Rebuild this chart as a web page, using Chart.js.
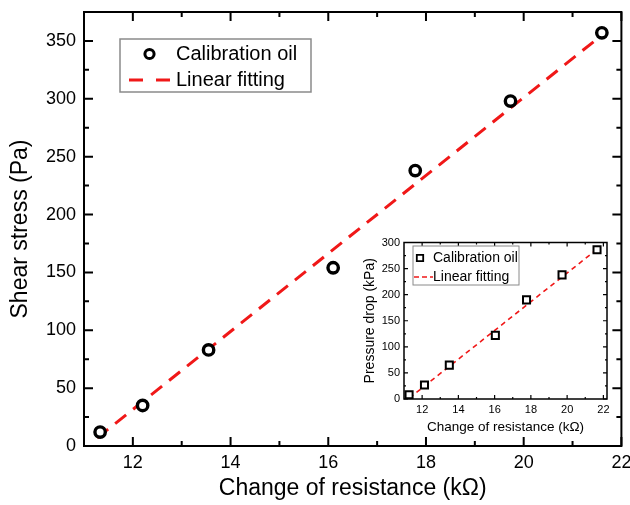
<!DOCTYPE html>
<html><head><meta charset="utf-8">
<script src="https://cdn.jsdelivr.net/npm/chart.js@4"></script>
<style>
html,body{margin:0;padding:0;background:#fff;}
#wrap{position:relative;width:630px;height:505px;overflow:hidden;}
#main{position:absolute;left:0;top:0;}
#inset{position:absolute;left:350px;top:230px;}
</style></head><body>
<div id="wrap"><canvas id="main" width="630" height="505"></canvas><canvas id="inset" width="265" height="210"></canvas></div>
<script>
// ---- main chart data ----
const mainX = [11.33, 12.2, 13.55, 16.1, 17.78, 19.73, 21.6];
const mainY = [12, 35, 83, 154, 238, 298, 357];
const mainFitX = [11.27, 21.6];
const mainFitY = [7, 355];
const mainXTicks = [12, 14, 16, 18, 20, 22];
const mainYTicks = [0, 50, 100, 150, 200, 250, 300, 350];
const mainXMinor = [13, 15, 17, 19, 21];
const mainYMinor = [25, 75, 125, 175, 225, 275, 325];
// ---- inset data ----
const insetX = [11.28, 12.13, 13.5, 16.04, 17.76, 19.72, 21.65];
const insetY = [8, 27, 65, 122, 190, 238, 286];
const insetFitX = [11.3, 21.65];
const insetFitY = [2, 287];
const insetXTicks = [12, 14, 16, 18, 20, 22];
const insetYTicks = [0, 50, 100, 150, 200, 250, 300];
const insetXMinor = [13, 15, 17, 19, 21];
const insetYMinor = [25, 75, 125, 175, 225, 275];

const FONT = "'Liberation Sans', Arial, sans-serif";
const RED = '#f01818';

const frameTicks = {
  id: 'frameTicks',
  beforeDatasetsDraw(chart, args, o) {
    const {ctx, chartArea: a, scales: {x, y}} = chart;
    ctx.save();
    ctx.strokeStyle = '#000';
    ctx.lineWidth = o.tw;
    ctx.beginPath();
    const vx = (vals, len) => vals.forEach(v => {
      const p = x.getPixelForValue(v);
      ctx.moveTo(p, a.bottom); ctx.lineTo(p, a.bottom - len);
      ctx.moveTo(p, a.top); ctx.lineTo(p, a.top + len);
    });
    const vy = (vals, len) => vals.forEach(v => {
      const p = y.getPixelForValue(v);
      ctx.moveTo(a.left, p); ctx.lineTo(a.left + len, p);
      ctx.moveTo(a.right, p); ctx.lineTo(a.right - len, p);
    });
    vx(o.xMajor, o.major); vx(o.xMinor, o.minor);
    vy(o.yMajor, o.major); vy(o.yMinor, o.minor);
    ctx.stroke();
    ctx.lineWidth = o.lw;
    ctx.strokeRect(a.left, a.top, a.right - a.left, a.bottom - a.top);
    ctx.restore();
  }
};

const boxLegend = {
  id: 'boxLegend',
  afterDraw(chart, args, o) {
    const ctx = chart.ctx;
    ctx.save();
    ctx.fillStyle = '#fff';
    ctx.fillRect(o.box[0], o.box[1], o.box[2] - o.box[0], o.box[3] - o.box[1]);
    ctx.strokeStyle = '#8a8a8a';
    ctx.lineWidth = o.blw;
    ctx.strokeRect(o.box[0], o.box[1], o.box[2] - o.box[0], o.box[3] - o.box[1]);
    ctx.strokeStyle = '#000';
    ctx.lineWidth = o.mlw;
    ctx.beginPath();
    if (o.marker === 'circle') {
      ctx.arc(o.mx, o.r1, o.msize, 0, Math.PI * 2);
    } else {
      ctx.rect(o.mx - o.msize, o.r1 - o.msize, o.msize * 2, o.msize * 2);
    }
    ctx.stroke();
    ctx.strokeStyle = RED;
    ctx.lineWidth = o.dlw;
    ctx.beginPath();
    o.dashes.forEach(d => { ctx.moveTo(d[0], o.r2); ctx.lineTo(d[1], o.r2); });
    ctx.stroke();
    ctx.fillStyle = '#000';
    ctx.font = o.font;
    ctx.textBaseline = 'middle';
    ctx.textAlign = 'left';
    ctx.fillText(o.labels[0], o.tx, o.r1);
    ctx.fillText(o.labels[1], o.tx, o.r2);
    ctx.restore();
  }
};

function pts(xs, ys) { return xs.map((v, i) => ({x: v, y: ys[i]})); }
function fitX(h) { return s => { s.height = h; s.paddingLeft = 0; s.paddingRight = 0; }; }
function fitY(w) { return s => { s.width = w; s.paddingTop = 0; s.paddingBottom = 0; }; }

new Chart(document.getElementById('main'), {
  type: 'scatter',
  data: {
    datasets: [
      {label: 'Calibration oil', data: pts(mainX, mainY), pointStyle: 'circle', pointRadius: 5.2,
       pointBorderWidth: 3.4, pointBorderColor: '#000', pointBackgroundColor: '#fff', pointHoverRadius: 5.2},
      {label: 'Linear fitting', data: pts(mainFitX, mainFitY), showLine: true, pointRadius: 0,
       borderColor: RED, borderWidth: 3, borderDash: [14, 9]}
    ]
  },
  options: {
    responsive: false, animation: false, devicePixelRatio: 1,
    layout: {padding: {top: 12, right: 8, left: 0, bottom: 0}},
    plugins: {
      legend: {display: false}, tooltip: {enabled: false},
      frameTicks: {xMajor: mainXTicks, xMinor: mainXMinor, yMajor: mainYTicks, yMinor: mainYMinor,
                   major: 9, minor: 5, tw: 2, lw: 2},
      boxLegend: {box: [120, 39, 311, 92], blw: 1.5, marker: 'circle', mx: 149.5, msize: 4.6, mlw: 3,
                  r1: 54, r2: 80, dashes: [[129, 143], [156, 170]], dlw: 3, tx: 176,
                  font: '20px ' + FONT, labels: ['Calibration oil', 'Linear fitting']}
    },
    scales: {
      x: {
        type: 'linear', min: 11, max: 22,
        afterBuildTicks: s => { s.ticks = mainXTicks.map(v => ({value: v})); },
        afterFit: fitX(59),
        grid: {display: false, drawTicks: false}, border: {display: false},
        ticks: {color: '#000', font: {family: FONT, size: 18}, padding: 6, maxRotation: 0, autoSkip: false},
        title: {display: true, text: 'Change of resistance (kΩ)', color: '#000',
                font: {family: FONT, size: 23}, padding: {top: 0, bottom: 3}}
      },
      y: {
        type: 'linear', min: 0, max: 375,
        afterBuildTicks: s => { s.ticks = mainYTicks.map(v => ({value: v})); },
        afterFit: fitY(84),
        grid: {display: false, drawTicks: false}, border: {display: false},
        ticks: {color: '#000', font: {family: FONT, size: 18}, padding: 8, autoSkip: false},
        title: {display: true, text: 'Shear stress (Pa)', color: '#000',
                font: {family: FONT, size: 23}, padding: {top: 7, bottom: 0}}
      }
    }
  },
  plugins: [frameTicks, boxLegend]
});

new Chart(document.getElementById('inset'), {
  type: 'scatter',
  data: {
    datasets: [
      {label: 'Calibration oil', data: pts(insetX, insetY), pointStyle: 'rect', pointRadius: 5,
       pointBorderWidth: 2, pointBorderColor: '#000', pointBackgroundColor: '#fff', pointHoverRadius: 5},
      {label: 'Linear fitting', data: pts(insetFitX, insetFitY), showLine: true, pointRadius: 0,
       borderColor: RED, borderWidth: 1.6, borderDash: [5, 4]}
    ]
  },
  options: {
    responsive: false, animation: false, devicePixelRatio: 1,
    layout: {padding: {top: 12.5, right: 8, left: 0, bottom: 0}},
    plugins: {
      legend: {display: false}, tooltip: {enabled: false},
      frameTicks: {xMajor: insetXTicks, xMinor: insetXMinor, yMajor: insetYTicks, yMinor: insetYMinor,
                   major: 4, minor: 2, tw: 1.2, lw: 1.5},
      boxLegend: {box: [63, 16, 169, 55], blw: 1, marker: 'rect', mx: 70, msize: 3.2, mlw: 1.8,
                  r1: 28, r2: 47, dashes: [[64, 69], [72, 77], [80, 83]], dlw: 1.6, tx: 83,
                  font: '14px ' + FONT, labels: ['Calibration oil', 'Linear fitting']}
    },
    scales: {
      x: {
        type: 'linear', min: 11, max: 22.2,
        afterBuildTicks: s => { s.ticks = insetXTicks.map(v => ({value: v})); },
        afterFit: fitX(41),
        grid: {display: false, drawTicks: false}, border: {display: false},
        ticks: {color: '#000', font: {family: FONT, size: 11}, padding: 4, maxRotation: 0, autoSkip: false},
        title: {display: true, text: 'Change of resistance (kΩ)', color: '#000',
                font: {family: FONT, size: 13.5}, padding: {top: 0, bottom: 5}}
      },
      y: {
        type: 'linear', min: 0, max: 300,
        afterBuildTicks: s => { s.ticks = insetYTicks.map(v => ({value: v})); },
        afterFit: fitY(54),
        grid: {display: false, drawTicks: false}, border: {display: false},
        ticks: {color: '#000', font: {family: FONT, size: 11}, padding: 4, autoSkip: false},
        title: {display: true, text: 'Pressure drop (kPa)', color: '#000',
                font: {family: FONT, size: 14}, padding: {top: 11.5, bottom: 0}}
      }
    }
  },
  plugins: [frameTicks, boxLegend]
});
</script>
</body></html>
